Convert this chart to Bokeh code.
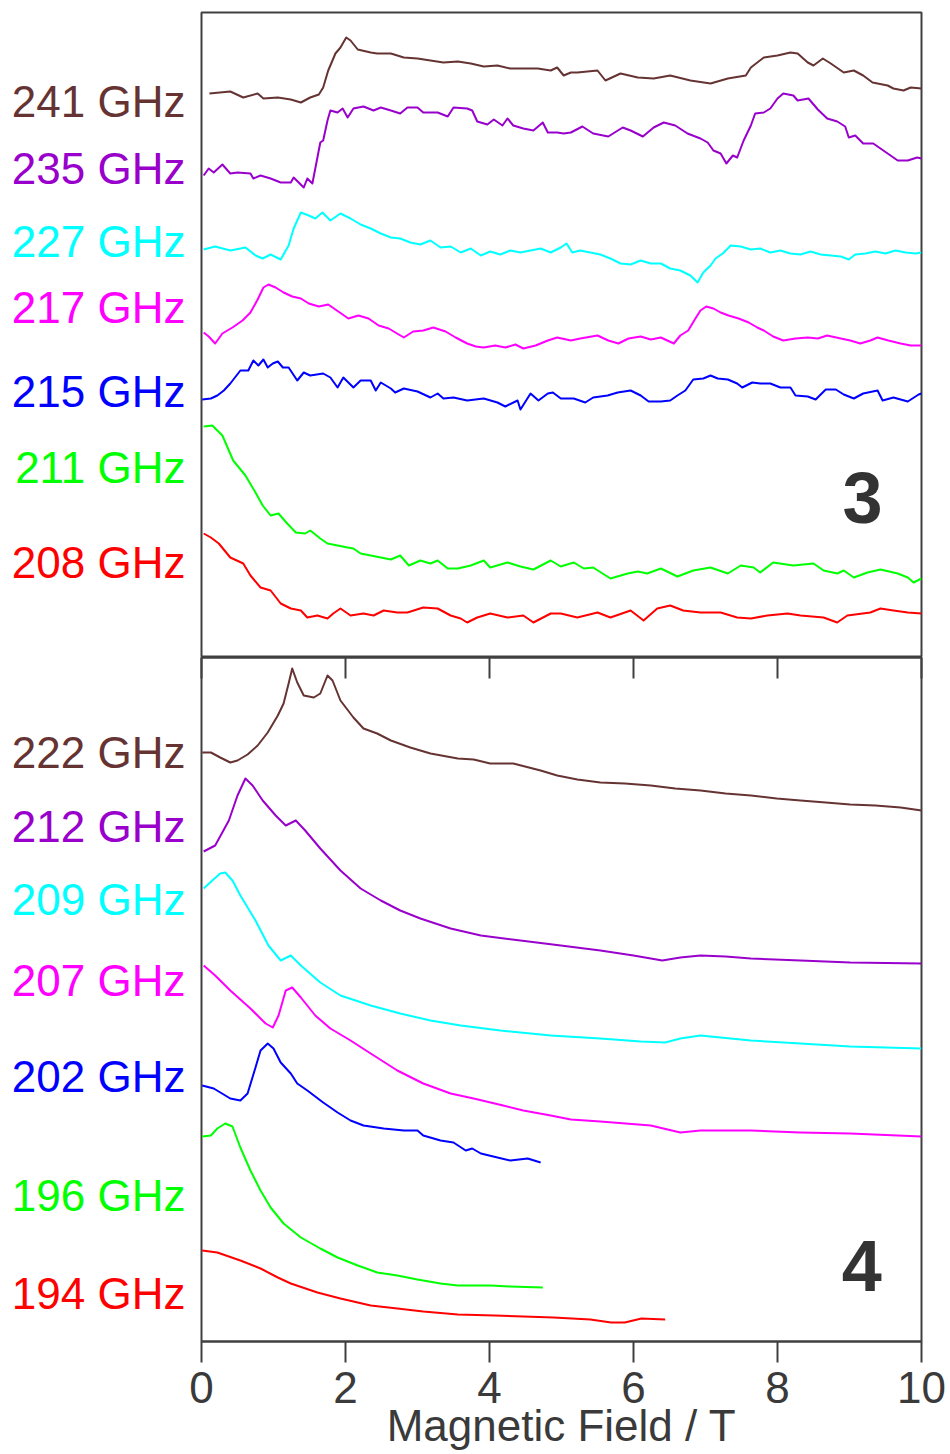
from bokeh.plotting import figure
from bokeh.layouts import column, row
from bokeh.models import Range1d, LinearAxis, FixedTicker, Label, ColumnDataSource
from bokeh.core.properties import value
from bokeh.embed import file_html
from bokeh.resources import INLINE

# ---------------- data: compound 3 (top panel) ----------------
# field in T, intensity in arbitrary units (vertical offset included)
f3_241 = [0.11,0.40,0.58,0.78,0.86,1.06,1.24,1.38,1.51,1.63,1.69,1.76,1.86,1.93,2.01,2.07,2.17,2.35,2.44,2.63,2.81,3.00,3.18,3.36,3.56,3.74,3.92,4.11,4.29,4.47,4.67,4.85,4.94,5.03,5.13,5.22,5.50,5.61,5.82,6.06,6.28,6.51,6.79,7.07,7.31,7.56,7.63,7.81,8.00,8.18,8.28,8.42,8.50,8.63,8.74,8.92,9.06,9.19,9.32,9.53,9.61,9.75,9.85,10.0]
i3_241 = [564,566,560,564,559,560,558,555,560,563,570,587,604,610,620,617,608,605,604,604,600,599,597,595,596,594,591,592,589,589,589,587,590,582,585,585,587,577,584,580,579,582,577,574,579,582,590,600,602,605,604,595,592,599,594,585,587,582,575,572,569,567,570,569]

f3_235 = [0.03,0.10,0.17,0.29,0.40,0.50,0.68,0.72,0.82,0.96,1.10,1.24,1.28,1.42,1.47,1.54,1.61,1.65,1.69,1.75,1.79,1.89,1.96,2.03,2.11,2.25,2.39,2.49,2.63,2.76,2.86,3.00,3.08,3.28,3.42,3.50,3.69,3.76,3.83,3.97,4.06,4.18,4.25,4.33,4.47,4.61,4.74,4.81,4.94,5.03,5.13,5.29,5.44,5.65,5.85,5.96,6.13,6.28,6.42,6.58,6.75,6.93,7.03,7.11,7.21,7.29,7.38,7.44,7.53,7.63,7.69,7.81,7.90,8.00,8.08,8.22,8.28,8.43,8.56,8.69,8.83,8.94,8.99,9.08,9.19,9.33,9.43,9.57,9.67,9.81,9.94,10.0]
i3_235 = [482,489,485,493,484,485,484,479,482,479,475,475,480,470,479,474,500,515,517,537,547,545,549,540,549,551,547,550,547,544,550,550,545,545,541,550,549,547,536,533,538,532,539,532,529,527,535,525,525,524,525,531,524,521,530,527,521,530,535,532,524,519,515,507,504,494,502,500,517,532,544,545,549,559,564,562,557,559,548,539,536,531,520,522,514,514,509,502,497,497,500,499]

f3_227 = [0.03,0.19,0.40,0.61,0.75,0.85,0.96,1.10,1.21,1.28,1.38,1.49,1.58,1.68,1.79,1.93,2.07,2.21,2.35,2.49,2.63,2.76,2.90,3.04,3.18,3.32,3.46,3.60,3.74,3.88,4.01,4.15,4.29,4.43,4.57,4.71,4.85,4.99,5.07,5.15,5.26,5.40,5.54,5.68,5.82,5.96,6.10,6.24,6.38,6.51,6.65,6.79,6.89,6.97,7.07,7.14,7.24,7.35,7.49,7.63,7.76,7.90,8.04,8.18,8.32,8.46,8.60,8.74,8.88,8.99,9.08,9.22,9.36,9.50,9.64,9.78,9.92,10.0]
i3_227 = [408,411,407,410,402,399,403,398,412,429,445,442,439,445,437,444,439,433,429,424,420,419,415,413,417,410,411,405,409,402,406,403,407,405,407,409,405,410,414,405,407,405,403,399,394,393,397,394,394,389,387,382,375,385,392,399,404,412,411,408,409,405,407,404,403,406,403,402,401,398,403,404,406,404,407,405,404,405]

f3_217 = [0.03,0.10,0.19,0.29,0.43,0.57,0.68,0.78,0.86,0.93,1.03,1.14,1.26,1.38,1.49,1.63,1.76,1.90,2.04,2.18,2.32,2.46,2.60,2.74,2.81,2.94,3.08,3.22,3.39,3.53,3.69,3.81,3.92,4.08,4.22,4.36,4.47,4.64,4.81,4.94,5.13,5.26,5.50,5.65,5.79,5.93,6.10,6.24,6.38,6.56,6.65,6.76,6.86,6.93,7.01,7.11,7.21,7.32,7.46,7.60,7.72,7.81,7.94,8.08,8.25,8.42,8.56,8.69,8.88,9.01,9.15,9.29,9.39,9.54,9.71,9.85,10.0]
i3_217 = [325,321,314,324,330,337,345,358,370,373,370,365,361,359,354,351,353,346,339,342,339,332,329,323,320,326,327,330,326,320,314,311,310,312,310,313,309,312,317,320,317,319,322,317,314,319,321,318,320,314,322,327,339,347,351,349,345,342,339,335,330,327,321,317,319,320,319,322,319,317,314,317,320,317,314,312,312]

f3_215 = [0.01,0.13,0.22,0.31,0.40,0.54,0.65,0.72,0.79,0.86,0.92,0.99,1.06,1.13,1.21,1.33,1.42,1.51,1.69,1.79,1.89,1.97,2.11,2.21,2.35,2.42,2.49,2.63,2.69,2.81,3.00,3.18,3.28,3.36,3.50,3.69,3.92,4.11,4.22,4.39,4.43,4.57,4.68,4.81,4.88,4.99,5.17,5.33,5.44,5.64,5.78,5.96,6.10,6.21,6.38,6.51,6.61,6.72,6.83,6.97,7.07,7.17,7.31,7.44,7.51,7.65,7.76,7.90,8.04,8.18,8.25,8.42,8.53,8.67,8.81,8.92,9.06,9.19,9.39,9.46,9.61,9.81,9.96,10.0]
i3_215 = [258,259,262,267,274,287,287,297,292,298,290,294,296,290,290,277,285,282,284,280,270,280,270,277,277,267,275,269,265,269,266,260,264,259,260,257,259,255,251,257,248,264,257,264,265,259,259,255,260,262,265,267,262,256,256,257,262,267,278,279,282,279,278,274,270,275,274,274,270,270,262,261,258,268,268,263,259,264,267,257,260,256,263,264]

f3_211 = [0.03,0.15,0.29,0.44,0.61,0.75,0.85,0.96,1.07,1.19,1.31,1.44,1.51,1.65,1.75,1.89,2.03,2.11,2.21,2.35,2.49,2.63,2.76,2.88,3.04,3.18,3.28,3.42,3.56,3.74,3.92,4.01,4.25,4.43,4.61,4.85,4.99,5.17,5.31,5.44,5.68,5.92,6.06,6.19,6.38,6.61,6.83,7.07,7.31,7.49,7.67,7.76,7.94,8.22,8.50,8.64,8.83,8.92,9.06,9.25,9.43,9.67,9.81,9.89,10.0]
i3_211 = [231,232,222,197,182,165,152,142,144,134,125,124,127,119,114,112,110,109,104,102,100,98,102,92,97,94,97,89,89,92,97,90,95,91,88,97,91,95,89,90,79,84,86,84,89,81,87,90,84,92,90,85,95,92,94,87,84,87,80,85,88,84,80,75,79]

f3_208 = [0.03,0.13,0.24,0.40,0.58,0.68,0.82,0.96,1.10,1.24,1.38,1.47,1.61,1.75,1.83,1.93,2.07,2.25,2.39,2.53,2.72,2.86,3.08,3.28,3.46,3.60,3.69,3.83,4.01,4.25,4.47,4.61,4.85,4.99,5.22,5.50,5.68,5.96,6.14,6.33,6.51,6.69,6.93,7.21,7.44,7.63,7.86,8.14,8.32,8.64,8.83,8.97,9.29,9.43,9.61,9.81,10.0]
i3_208 = [124,120,114,100,94,82,70,67,54,49,47,40,42,39,44,49,42,44,42,47,45,45,50,49,42,39,35,40,44,40,42,35,44,44,40,45,40,47,37,49,52,47,45,45,40,39,42,44,42,40,35,42,45,49,47,45,44]

# ---------------- data: compound 4 (bottom panel) ----------------
f4_222 = [0.01,0.13,0.26,0.40,0.50,0.64,0.78,0.92,1.06,1.14,1.21,1.26,1.33,1.42,1.56,1.65,1.75,1.82,1.93,2.11,2.25,2.44,2.63,2.90,3.18,3.56,3.78,4.01,4.33,4.71,4.94,5.22,5.54,5.88,6.24,6.58,6.93,7.28,7.63,7.99,8.32,8.67,9.01,9.36,9.71,10.0]
i4_222 = [589,589,584,579,581,587,596,609,626,638,658,673,659,646,644,648,666,661,641,624,613,608,601,594,588,583,582,578,578,571,566,562,559,558,556,553,551,548,546,543,541,539,537,536,534,531]

f4_212 = [0.03,0.19,0.38,0.50,0.61,0.71,0.85,1.03,1.17,1.31,1.44,1.65,1.93,2.21,2.49,2.76,3.04,3.46,3.88,4.43,4.99,5.54,6.00,6.24,6.40,6.65,6.93,7.28,7.63,8.32,9.01,10.0]
i4_212 = [490,496,521,546,563,556,541,526,516,521,511,493,471,453,441,431,423,413,406,401,396,391,386,383,381,384,386,385,383,381,379,378]

f4_209 = [0.03,0.15,0.26,0.33,0.43,0.54,0.75,0.93,1.10,1.24,1.38,1.65,1.93,2.35,2.76,3.18,3.60,4.15,4.85,5.54,6.10,6.44,6.65,6.93,7.21,7.63,8.32,9.01,10.0]
i4_209 = [453,461,468,469,461,446,421,396,381,386,376,359,346,336,328,321,316,311,306,303,300,299,303,306,304,301,298,295,293]

f4_207 = [0.03,0.19,0.40,0.68,0.89,0.99,1.07,1.17,1.26,1.38,1.58,1.79,2.07,2.35,2.72,3.08,3.46,3.78,4.19,4.47,4.85,5.13,5.54,6.24,6.65,6.93,7.63,8.32,9.01,10.0]
i4_207 = [376,366,351,333,318,314,326,351,354,344,326,313,301,288,271,258,248,243,236,231,226,222,220,216,209,211,211,209,208,205]

f4_202 = [0.01,0.17,0.40,0.54,0.64,0.75,0.82,0.92,1.00,1.10,1.24,1.33,1.47,1.69,1.89,2.07,2.25,2.53,2.81,3.00,3.08,3.32,3.50,3.67,3.76,3.88,4.11,4.29,4.53,4.71]
i4_202 = [256,253,243,241,248,274,291,298,293,279,268,258,251,239,229,221,216,213,211,211,206,201,199,191,193,188,184,181,183,179]

f4_196 = [0.01,0.13,0.22,0.33,0.43,0.54,0.68,0.82,0.96,1.14,1.38,1.65,1.89,2.17,2.44,2.72,3.00,3.32,3.56,3.83,4.01,4.29,4.74]
i4_196 = [205,206,213,218,215,194,171,151,134,118,104,93,84,76,69,66,62,58,56,56,56,55,54]

f4_194 = [0.01,0.22,0.54,0.82,1.06,1.24,1.61,1.93,2.35,2.72,3.08,3.56,4.07,4.47,4.89,5.40,5.69,5.88,6.11,6.44]
i4_194 = [91,89,81,73,64,58,49,43,36,33,30,27,26,25,24,22,19,19,23,22]

freq3 = ["241 GHz", "235 GHz", "227 GHz", "217 GHz", "215 GHz", "211 GHz", "208 GHz"]
freq4 = ["222 GHz", "212 GHz", "209 GHz", "207 GHz", "202 GHz", "196 GHz", "194 GHz"]
x_ticks = [0, 2, 4, 6, 8, 10]

# ---------------- styles / layout ----------------
colors = ["#663333", "#9900CC", "#00FFFF", "#FF00FF", "#0000FF", "#00FF00", "#FF0000"]
label_y3 = [556, 489, 416, 350, 266, 190, 95]
label_y4 = [589, 515, 442, 361, 265, 146, 48]
FONT = "Liberation Sans"
AX = "#404040"
TXT = "#3a3a3a"
PX_PER_T = 72.0       # horizontal scale of the plot frame
FRAME_X0 = 201        # left edge of the plot frame on the page (px)
PAD = 14              # left border of the panels (room for the "0" tick label)
LEFT_W = FRAME_X0 - PAD

series3 = [(f3_241, i3_241), (f3_235, i3_235), (f3_227, i3_227), (f3_217, i3_217),
           (f3_215, i3_215), (f3_211, i3_211), (f3_208, i3_208)]
series4 = [(f4_222, i4_222), (f4_212, i4_212), (f4_209, i4_209), (f4_207, i4_207),
           (f4_202, i4_202), (f4_196, i4_196), (f4_194, i4_194)]

x_range = Range1d(0, 10)
yr3 = Range1d(0, 645)
yr4 = Range1d(0, 684)

H1, TOP1 = 657, 12
H2, BOT2 = 796, 112
PW = PAD + 720 + 25


def plain(p):
    p.xaxis.visible = False
    p.yaxis.visible = False
    p.grid.visible = False


p1 = figure(width=PW, height=H1, x_range=x_range, y_range=yr3,
            min_border_left=PAD, min_border_right=25, min_border_top=TOP1, min_border_bottom=0,
            output_backend="svg", toolbar_location=None)
plain(p1)
p1.outline_line_color = AX
p1.outline_line_width = 2

p2 = figure(width=PW, height=H2, x_range=x_range, y_range=yr4,
            min_border_left=PAD, min_border_right=25, min_border_top=0, min_border_bottom=BOT2,
            output_backend="svg", toolbar_location=None)
p2.yaxis.visible = False
p2.grid.visible = False
p2.outline_line_color = AX
p2.outline_line_width = 2

xa = p2.xaxis[0]
xa.ticker = FixedTicker(ticks=x_ticks)
xa.axis_line_color = AX
xa.axis_line_width = 2
xa.major_tick_line_color = AX
xa.major_tick_line_width = 2
xa.major_tick_in = 0
xa.major_tick_out = 21
xa.minor_tick_line_color = None
xa.minor_tick_in = 0
xa.minor_tick_out = 0
xa.major_label_text_font = FONT
xa.major_label_text_font_size = "44px"
xa.major_label_text_color = TXT
xa.major_label_standoff = 9
xa.axis_label = "Magnetic Field / T"
xa.axis_label_text_font = FONT
xa.axis_label_text_font_size = "44px"
xa.axis_label_text_font_style = "normal"
xa.axis_label_text_color = TXT
xa.axis_label_standoff = -5

# ticks of the upper panel, pointing down into the lower panel
ta = LinearAxis(ticker=FixedTicker(ticks=x_ticks), major_tick_in=21, major_tick_out=0,
                minor_tick_in=0, minor_tick_out=0, minor_tick_line_color=None,
                major_tick_line_color=AX, major_tick_line_width=2,
                axis_line_color=AX, axis_line_width=2,
                major_label_overrides={t: "" for t in x_ticks},
                major_label_text_font_size="0px", major_label_standoff=0)
p2.add_layout(ta, "above")

# label columns (share the vertical scale of each panel; x in T left of the frame)
lab_x = Range1d(-FRAME_X0 / PX_PER_T, -PAD / PX_PER_T)
l1 = figure(width=LEFT_W, height=H1, x_range=lab_x, y_range=yr3,
            min_border_left=0, min_border_right=0, min_border_top=TOP1, min_border_bottom=0,
            output_backend="svg", toolbar_location=None, outline_line_color=None)
plain(l1)
l2 = figure(width=LEFT_W, height=H2, x_range=lab_x, y_range=yr4,
            min_border_left=0, min_border_right=0, min_border_top=0, min_border_bottom=BOT2,
            output_backend="svg", toolbar_location=None, outline_line_color=None)
plain(l2)

for p, lp, series, names, ly in [(p1, l1, series3, freq3, label_y3), (p2, l2, series4, freq4, label_y4)]:
    for (f, inten), c in zip(series, colors):
        src = ColumnDataSource(dict(x=f, y=inten))
        p.line("x", "y", source=src, line_color=c, line_width=2, line_join="round")
    lsrc = ColumnDataSource(dict(x=[-16 / PX_PER_T] * len(names), y=ly, text=names, color=colors))
    lp.text("x", "y", text="text", text_color="color", source=lsrc, text_align="right",
            text_baseline="middle", text_font=value(FONT), text_font_size="44px")

p1.add_layout(Label(x=9.18, y=160, text="3", text_align="center", text_baseline="middle",
                    text_color="#333333", text_font=FONT, text_font_style="bold",
                    text_font_size="72px"))
p2.add_layout(Label(x=9.17, y=76, text="4", text_align="center", text_baseline="middle",
                    text_color="#333333", text_font=FONT, text_font_style="bold",
                    text_font_size="72px"))

layout = column(row(l1, p1, spacing=0), row(l2, p2, spacing=0), spacing=0)
open("out.html", "w").write(file_html(layout, INLINE))
